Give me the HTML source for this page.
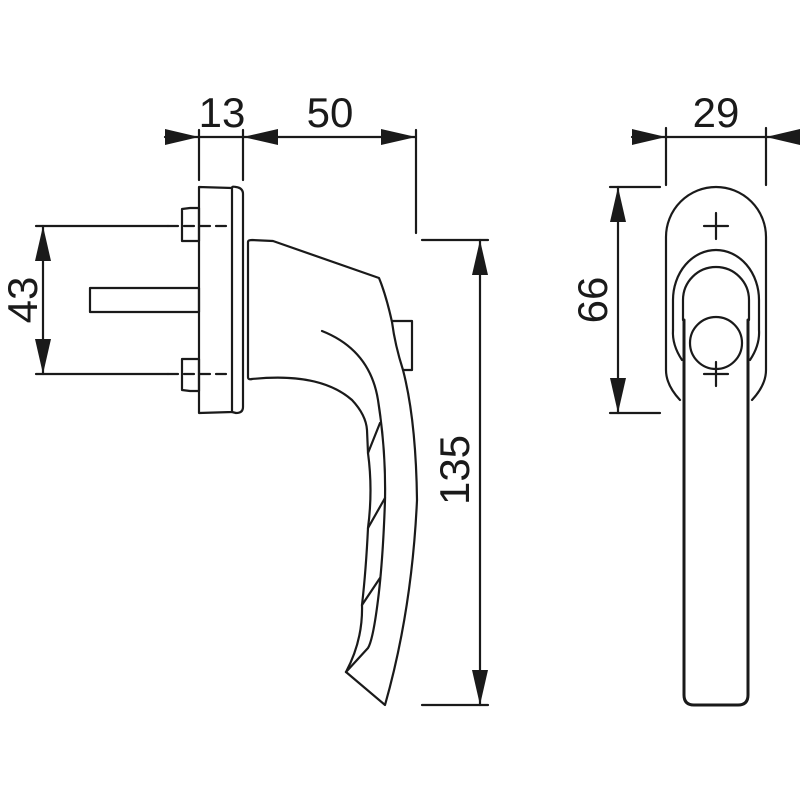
<!DOCTYPE html>
<html><head><style>html,body{margin:0;padding:0;background:#fff}svg{display:block}</style></head><body>
<svg width="800" height="800" viewBox="0 0 800 800" xmlns="http://www.w3.org/2000/svg">
<g fill="none" stroke="#1a1a1a" stroke-width="2.2" stroke-linejoin="round" stroke-linecap="round">
<!-- top dim left -->
<line x1="165" y1="137" x2="416" y2="137"/>
<line x1="199" y1="130" x2="199" y2="180"/>
<line x1="243" y1="130" x2="243" y2="180"/>
<line x1="416" y1="130" x2="416" y2="233"/>
<!-- 43 -->
<line x1="36" y1="226" x2="168" y2="226"/>
<line x1="36" y1="374" x2="168" y2="374"/>
<line x1="43" y1="226" x2="43" y2="374"/>
<line x1="168" y1="226" x2="232" y2="226" stroke-dasharray="10,6"/>
<line x1="168" y1="374" x2="232" y2="374" stroke-dasharray="10,6"/>
<!-- 135 -->
<line x1="422" y1="240" x2="488" y2="240"/>
<line x1="422" y1="705" x2="488" y2="705"/>
<line x1="480" y1="240" x2="480" y2="705"/>
<!-- rose left -->
<path d="M199,187 L232,188 L232,412 L199,413 Z"/>
<path d="M232,188 Q232,186 236,187 Q243,188 243,194 L243,407 Q243,413 236,413 L232,412"/>
<path d="M182,209 L190,208 L199,208 L199,241 L182,241 Z"/>
<path d="M182,359 L199,359 L199,391 L190,391 L182,390 Z"/>
<path d="M90,288 L199,288 L199,312 L90,312 Z"/>
<!-- handle side -->
<path d="M248,242 Q248,240 252,240 L273,241 L379,278 Q386,295 392,322 Q395,345 403,370 Q416,420 417,500 Q412,610 385,705 L346,672"/>
<path d="M248,242 L248,377 Q248,380 252,379 Q320,372 352,400 Q366,415 367,430 L368,453 Q373,490 368,528 Q366,570 362,605 Q363,640 346,672"/>
<path d="M393,321 L412,321 L412,370 L403,370"/>
<path d="M322,331 Q370,350 378,400 Q386,450 385,500 Q383,560 378,600 Q373,640 368,648 L346,672"/>
<path d="M368,453 L380,423 M368,528 L385,498 M362,605 L380,578"/>
<!-- right view dims -->
<line x1="632" y1="137" x2="800" y2="137"/>
<line x1="666" y1="128" x2="666" y2="185"/>
<line x1="766" y1="128" x2="766" y2="185"/>
<line x1="610" y1="187" x2="660" y2="187"/>
<line x1="610" y1="413" x2="660" y2="413"/>
<line x1="618" y1="187" x2="618" y2="413"/>
<!-- right view handle -->
<path d="M680,400 Q666,385 666,370 L666,237 A50,50 0 0 1 766,237 L766,370 Q766,385 752,400"/>
<path d="M673,330 L673,300 A43,50 0 0 1 759,300 L759,330 Q760,345 750,360"/>
<path d="M673,330 Q672,345 682,360"/>
<path d="M683,320 L683,300 A33,33 0 0 1 749,300 L749,320"/>
<path d="M684,320 L684,695 Q684,705 694,705 L738,705 Q748,705 748,695 L748,320" stroke-width="3"/>
<circle cx="716" cy="343" r="26"/>
<line x1="704" y1="226" x2="728" y2="226"/><line x1="716" y1="213" x2="716" y2="239"/>
<line x1="704" y1="374" x2="728" y2="374"/><line x1="716" y1="362" x2="716" y2="386"/>
</g>
<g fill="#1a1a1a">
<polygon points="165,129 199,137 165,145"/>
<polygon points="278,129 243,137 278,145"/>
<polygon points="381,129 416,137 381,145"/>
<polygon points="35,261 43,226 51,261"/>
<polygon points="35,339 43,374 51,339"/>
<polygon points="472,275 480,240 488,275"/>
<polygon points="472,670 480,705 488,670"/>
<polygon points="632,129 666,137 632,145"/>
<polygon points="800,129 766,137 800,145"/>
<polygon points="610,222 618,187 626,222"/>
<polygon points="610,378 618,413 626,378"/>
</g>
<g font-family="Liberation Sans, sans-serif" font-size="42" fill="#1a1a1a" text-anchor="middle">
<text x="222" y="127">13</text>
<text x="330" y="127">50</text>
<text x="716" y="127">29</text>
<text transform="translate(37,300) rotate(-90)">43</text>
<text transform="translate(469,470) rotate(-90)">135</text>
<text transform="translate(607,300) rotate(-90)">66</text>
</g>
</svg>
</body></html>
